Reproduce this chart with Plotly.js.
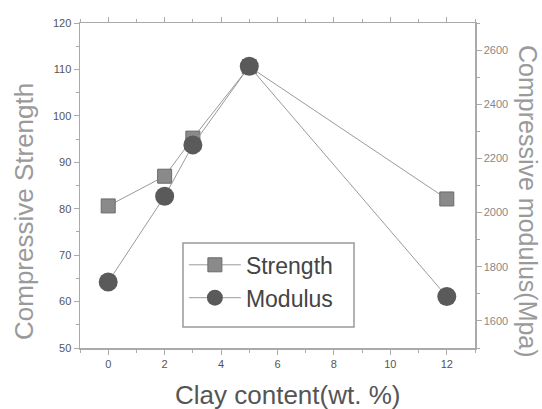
<!DOCTYPE html>
<html><head><meta charset="utf-8">
<script src="https://cdn.plot.ly/plotly-3.0.1.min.js"></script>
<style>html,body{margin:0;padding:0;background:#fff}#c{width:542px;height:409px}</style>
</head><body><div id="c"></div>
<script>
const clay = [0, 2, 3, 5, 12];
const strength = [80.6, 87.0, 95.2, 110.6, 82.1];
const modulus = [1744, 2060, 2250, 2540, 1690];
const xTicks = [0, 2, 4, 6, 8, 10, 12];

const axisCol = '#aaaaaa';
const FF = 'Liberation Sans, Arial, sans-serif';
const tickFont = {family: FF, size: 11, color: '#555'};

const traces = [
  {x: clay, y: strength, name: 'Strength', type: 'scatter', mode: 'lines+markers',
   line: {color: '#9a9a9a', width: 1},
   marker: {symbol: 'square', size: 14, color: '#8a8a8a', line: {color: '#6a6a6a', width: 1}}},
  {x: clay, y: modulus, name: 'Modulus', yaxis: 'y2', type: 'scatter', mode: 'lines+markers',
   line: {color: '#9a9a9a', width: 1},
   marker: {symbol: 'circle', size: 19, color: '#5a5a5a', line: {width: 0}}}
];

const layout = {
  width: 542, height: 409,
  margin: {l: 80, r: 67, t: 23, b: 61},
  paper_bgcolor: '#fff', plot_bgcolor: '#fff',
  showlegend: true,
  legend: {x: 0.263, y: 0.322, xanchor: 'left', yanchor: 'top',
    borderwidth: 0, bgcolor: 'rgba(0,0,0,0)', itemwidth: 52,
    font: {family: FF, size: 23, color: '#444'}},
  shapes: [{type: 'rect', xref: 'paper', yref: 'paper',
    x0: (183 - 80) / 395, x1: (354 - 80) / 395, y0: (348 - 327) / 325, y1: (348 - 243) / 325,
    line: {color: '#999', width: 1.5}, fillcolor: 'rgba(0,0,0,0)', layer: 'below'}],
  xaxis: {range: [-1, 13], tickvals: xTicks, ticks: 'outside', ticklen: 5, tickcolor: axisCol,
    showline: true, linecolor: axisCol, linewidth: 1.5, mirror: 'ticks', showgrid: false, zeroline: false,
    minor: {dtick: 1, ticks: 'outside', ticklen: 3, tickcolor: axisCol},
    tickfont: tickFont},
  yaxis: {range: [50, 120], dtick: 10, ticks: 'outside', ticklen: 5, tickcolor: axisCol,
    showline: true, linecolor: axisCol, linewidth: 1.5, showgrid: false, zeroline: false,
    minor: {dtick: 5, ticks: 'outside', ticklen: 3, tickcolor: axisCol},
    tickfont: tickFont},
  yaxis2: {overlaying: 'y', side: 'right', range: [1500, 2700], dtick: 200, ticks: 'outside', ticklen: 5, tickcolor: axisCol,
    showline: true, linecolor: axisCol, linewidth: 1.5, showgrid: false, zeroline: false,
    minor: {dtick: 100, ticks: 'outside', ticklen: 3, tickcolor: axisCol},
    tickfont: {family: FF, size: 11, color: '#888'}},
  annotations: [
    {text: 'Compressive modulus(Mpa)', xref: 'paper', yref: 'paper', x: (528 - 80) / 395, y: (348 - 201) / 325,
     textangle: 90, showarrow: false, xanchor: 'center', yanchor: 'middle',
     font: {family: FF, size: 25, color: '#9a9a9a'}},
    {text: 'Compressive Strength', xref: 'paper', yref: 'paper', x: (24 - 80) / 395, y: (348 - 212) / 325,
     textangle: -90, showarrow: false, xanchor: 'center', yanchor: 'middle',
     font: {family: FF, size: 26, color: '#9a9a9a'}},
    {text: 'Clay content(wt. %)', xref: 'paper', yref: 'paper', x: (287 - 80) / 395, y: (348 - 395) / 325,
     showarrow: false, xanchor: 'center', yanchor: 'middle',
     font: {family: FF, size: 26, color: '#555'}}
  ]
};

Plotly.newPlot('c', traces, layout, {displayModeBar: false, staticPlot: true});
</script></body></html>
